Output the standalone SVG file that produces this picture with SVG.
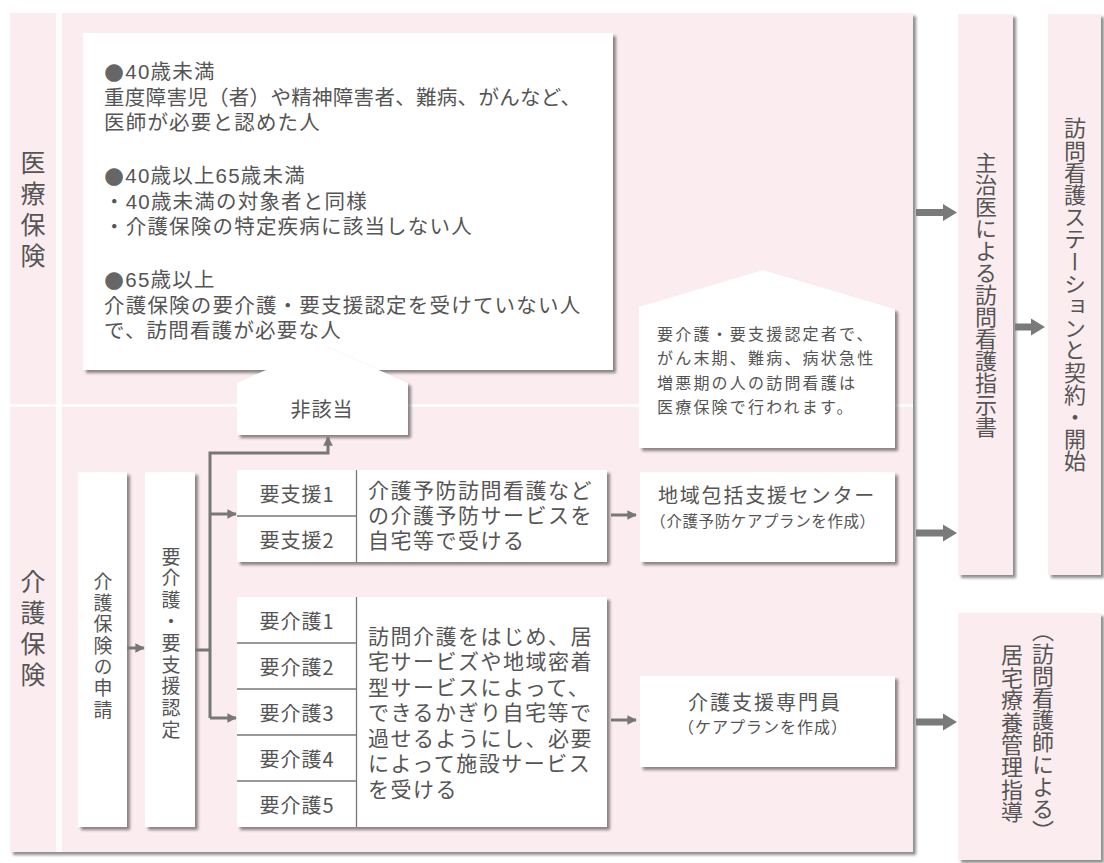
<svg xmlns="http://www.w3.org/2000/svg" width="1104" height="863" viewBox="0 0 1104 863">
<defs>
<filter id="sh" x="-10%" y="-10%" width="130%" height="130%">
<feGaussianBlur in="SourceAlpha" stdDeviation="1.5"/>
<feOffset dx="3" dy="3" result="b"/>
<feComponentTransfer><feFuncA type="linear" slope="0.45"/></feComponentTransfer>
<feMerge><feMergeNode/><feMergeNode in="SourceGraphic"/></feMerge>
</filter>
<marker id="ahs" viewBox="0 0 10 10" refX="9" refY="5" markerWidth="3.2" markerHeight="3.2" orient="auto" markerUnits="strokeWidth">
<path d="M0,0 L10,5 L0,10 z" fill="#777"/>
</marker>
</defs>
<style>
.t{font-family:"Noto Sans CJK JP","Noto Sans",sans-serif;fill:#555;}
.m{font-family:"Liberation Sans","Noto Sans CJK JP",sans-serif;fill:#555;}
.b{font-family:"DejaVu Sans",sans-serif;font-size:23px;fill:#666;}
.v{writing-mode:vertical-rl;}
.w{fill:#fff;filter:url(#sh);}
.p{fill:#fbecef;filter:url(#sh);}
.ln{stroke:#777;stroke-width:3;fill:none;}
.cell{stroke:#777;stroke-width:1.3;}
.big{fill:#7a7a7a;}
</style>
<rect width="1104" height="863" fill="#fff"/>
<g id="panel">
<rect class="p" x="10" y="13" width="903" height="839"/>
<rect x="56" y="13" width="6" height="839" fill="#fff" opacity="0.85"/>
<rect x="10" y="404" width="903" height="3" fill="#fff" opacity="0.85"/>
</g>
<g id="label-iryo">
<text class="t v" x="33" y="150" font-size="25" letter-spacing="6">医療保険</text>
</g>
<g id="label-kaigo">
<text class="t v" x="33" y="569" font-size="25" letter-spacing="6">介護保険</text>
</g>
<g id="iryo-box">
<rect class="w" x="83" y="33" width="530" height="337"/>
<g class="m" font-size="20.5" dominant-baseline="central" letter-spacing="1.2">
<text x="104" y="71"><tspan class="b">●</tspan>40歳未満</text>
<text x="104" y="97" letter-spacing="0.3">重度障害児（者）や精神障害者、難病、がんなど、</text>
<text x="104" y="122">医師が必要と認めた人</text>
<text x="104" y="175"><tspan class="b">●</tspan>40歳以上65歳未満</text>
<text x="104" y="201">・40歳未満の対象者と同様</text>
<text x="104" y="226">・介護保険の特定疾病に該当しない人</text>
<text x="104" y="279"><tspan class="b">●</tspan>65歳以上</text>
<text x="104" y="305">介護保険の要介護・要支援認定を受けていない人</text>
<text x="104" y="330">で、訪問看護が必要な人</text>
</g>
</g>
<g id="higaitou">
<polygon class="w" points="237,383 322,345 408,383 408,435 237,435"/>
<text class="t" x="322" y="408" font-size="20" text-anchor="middle" dominant-baseline="central" letter-spacing="1">非該当</text>
</g>
<g id="note">
<polygon class="w" points="639,307 763,270 895,309 895,448 639,448"/>
<g class="m" font-size="16" letter-spacing="2.2" dominant-baseline="central">
<text x="657" y="334">要介護・要支援認定者で、</text>
<text x="657" y="358">がん末期、難病、病状急性</text>
<text x="657" y="383">増悪期の人の訪問看護は</text>
<text x="657" y="407">医療保険で行われます。</text>
</g>
</g>
<g id="shinsei">
<rect class="w" x="78" y="472" width="49" height="355"/>
<text class="t v" x="103" y="572" font-size="19" letter-spacing="2.3">介護保険の申請</text>
</g>
<g id="nintei">
<rect class="w" x="145" y="472" width="50" height="355"/>
<text class="t v" x="171" y="547" font-size="19" letter-spacing="2.6">要介護・要支援認定</text>
</g>
<g id="yoshien">
<rect class="w" x="237" y="470" width="370" height="92"/>
<line class="cell" x1="356.5" y1="470" x2="356.5" y2="562"/>
<line class="cell" x1="237" y1="516" x2="356" y2="516"/>
<g class="t" font-size="20" text-anchor="middle" dominant-baseline="central" letter-spacing="1">
<text x="297" y="493">要支援1</text>
<text x="297" y="539">要支援2</text>
</g>
<g class="m" font-size="21" letter-spacing="1.5" dominant-baseline="central">
<text x="368" y="490">介護予防訪問看護など</text>
<text x="368" y="515">の介護予防サービスを</text>
<text x="368" y="540">自宅等で受ける</text>
</g>
</g>
<g id="yokaigo">
<rect class="w" x="237" y="597" width="370" height="230"/>
<line class="cell" x1="356.5" y1="597" x2="356.5" y2="827"/>
<line class="cell" x1="237" y1="643" x2="356" y2="643"/>
<line class="cell" x1="237" y1="689" x2="356" y2="689"/>
<line class="cell" x1="237" y1="735" x2="356" y2="735"/>
<line class="cell" x1="237" y1="781" x2="356" y2="781"/>
<g class="t" font-size="20" text-anchor="middle" dominant-baseline="central" letter-spacing="1">
<text x="297" y="620">要介護1</text>
<text x="297" y="666">要介護2</text>
<text x="297" y="712">要介護3</text>
<text x="297" y="758">要介護4</text>
<text x="297" y="804">要介護5</text>
</g>
<g class="m" font-size="21" letter-spacing="1.5" dominant-baseline="central">
<text x="368" y="636">訪問介護をはじめ、居</text>
<text x="368" y="661.5">宅サービズや地域密着</text>
<text x="368" y="687">型サービスによって、</text>
<text x="368" y="712.5">できるかぎり自宅等で</text>
<text x="368" y="738">過せるようにし、必要</text>
<text x="368" y="763.5">によって施設サービス</text>
<text x="368" y="789">を受ける</text>
</g>
</g>
<g id="chiiki">
<rect class="w" x="640" y="472" width="255" height="90"/>
<text class="m" x="767" y="496" font-size="20" letter-spacing="1.8" text-anchor="middle" dominant-baseline="central">地域包括支援センター</text>
<text class="m" x="763" y="521" font-size="15.5" letter-spacing="0.6" text-anchor="middle" dominant-baseline="central">（介護予防ケアプランを作成）</text>
</g>
<g id="caremanager">
<rect class="w" x="640" y="676" width="255" height="91"/>
<text class="m" x="765" y="703" font-size="20" letter-spacing="2" text-anchor="middle" dominant-baseline="central">介護支援専門員</text>
<text class="m" x="763" y="727" font-size="16" letter-spacing="1" text-anchor="middle" dominant-baseline="central">（ケアプランを作成）</text>
</g>
<g id="shijisho">
<rect class="p" x="958" y="14" width="55" height="561"/>
<text class="t v" x="986" y="152" font-size="22" letter-spacing="0">主治医による訪問看護指示書</text>
</g>
<g id="station">
<rect class="p" x="1048" y="14" width="53" height="561"/>
<text class="t v" x="1075" y="117" font-size="22" letter-spacing="0.2">訪問看護ステーションと契約・開始</text>
</g>
<g id="kyotaku">
<rect class="p" x="958" y="613" width="143" height="247"/>
<text class="t v" x="1043" y="620" font-size="22" letter-spacing="0.2">（訪問看護師による）</text>
<text class="t v" x="1012" y="644" font-size="22" letter-spacing="0.4">居宅療養管理指導</text>
</g>
<g id="connectors">
<line class="ln" x1="127" y1="648" x2="144" y2="648" marker-end="url(#ahs)"/>
<path class="ln" d="M195,650 H210"/>
<path class="ln" d="M210,718 V453 H328 V437" marker-end="url(#ahs)"/>
<line class="ln" x1="210" y1="514" x2="236" y2="514" marker-end="url(#ahs)"/>
<line class="ln" x1="210" y1="718" x2="236" y2="718" marker-end="url(#ahs)"/>
<line class="ln" x1="611" y1="515" x2="636" y2="515" marker-end="url(#ahs)"/>
<line class="ln" x1="611" y1="720" x2="636" y2="720" marker-end="url(#ahs)"/>
<polygon class="big" points="916,209 943,209 943,204 957,212.5 943,221 943,216 916,216"/>
<polygon class="big" points="1015,323.5 1031,323.5 1031,318.5 1045,327 1031,335.5 1031,330.5 1015,330.5"/>
<polygon class="big" points="916,529.5 943,529.5 943,524.5 957,533 943,541.5 943,536.5 916,536.5"/>
<polygon class="big" points="916,718.5 943,718.5 943,713.5 957,722 943,730.5 943,725.5 916,725.5"/>
</g>
</svg>
